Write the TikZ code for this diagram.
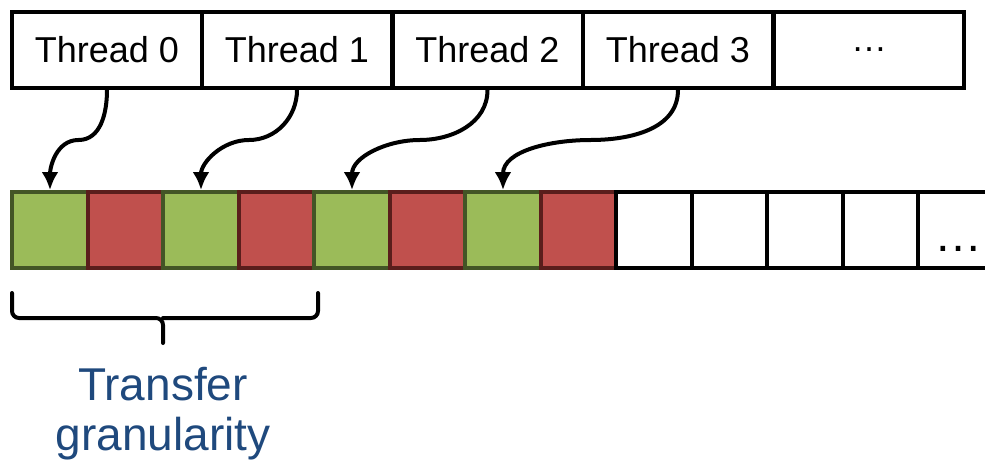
\documentclass[tikz,border=0pt]{standalone}
\usepackage{fontspec}
\setmainfont{Liberation Sans}
\usetikzlibrary{arrows.meta,calc}
\definecolor{cellgreen}{HTML}{9BBB59}
\definecolor{cellgreenline}{HTML}{435526}
\definecolor{cellred}{HTML}{C0504D}
\definecolor{cellredline}{HTML}{5A1E1C}
\definecolor{labelblue}{HTML}{1F497D}
\tikzset{
  threadbox/.style={draw=black, line width=4pt, fill=white, minimum width=190pt,
    minimum height=76pt, inner sep=0pt, font=\fontsize{36}{40}\selectfont},
  cell/.style={line width=4pt, minimum width=75.5pt, minimum height=76pt, inner sep=0pt},
  gcell/.style={cell, draw=cellgreenline, fill=cellgreen},
  rcell/.style={cell, draw=cellredline, fill=cellred},
  wcell/.style={cell, draw=black, fill=white},
  maparrow/.style={draw=black, line width=4pt, -{Latex[length=18pt,width=17pt]}},
  bracestyle/.style={draw=black, line width=4pt, rounded corners=7pt, line cap=round},
  labeltext/.style={text=labelblue, font=\fontsize{46}{50}\selectfont, anchor=base, inner sep=0pt},
}
\begin{document}
\begin{tikzpicture}[x=1pt,y=-1pt]
\useasboundingbox (0,0) rectangle (985,466);

% thread row
\node[threadbox] (t0) at (107,50) {Thread 0};
\node[threadbox] (t1) at (297,50) {Thread 1};
\node[threadbox] (t2) at (487.5,50) {Thread 2};
\node[threadbox] (t3) at (678,50) {Thread 3};
\node[threadbox] (t4) at (869,50) {…};

% memory cells
\foreach \i/\kind in {0/gcell,1/rcell,2/gcell,3/rcell,4/gcell,5/rcell,6/gcell,7/rcell,
                      8/wcell,9/wcell,10/wcell,11/wcell,12/wcell}{
  \node[\kind] (c\i) at ({50+75.5*\i},230) {};
}
\node[font=\fontsize{48}{52}\selectfont, anchor=base, inner sep=0pt] (dots) at (958,251) {…};

% thread-to-cell mapping
\foreach \t/\c in {0/0,1/2,2/4,3/6}{
  \coordinate (m\t) at ($(t\t.south)!0.5!(c\c.north)$);
  \draw[maparrow] (t\t.south) to[out=-90,in=0] (m\t) to[out=180,in=90] (c\c.north);
}

% brace under the first four cells
\coordinate (bl) at (12,293);
\coordinate (br) at (318,293);
\coordinate (bm) at (163,343);
\draw[bracestyle] (bl) |- (163,318) -- (bm);
\draw[bracestyle] (br) |- (163,318);

\node[labeltext] (lbl1) at (163,400) {Transfer};
\node[labeltext] (lbl2) at (163,450) {granularity};
\end{tikzpicture}
\end{document}
